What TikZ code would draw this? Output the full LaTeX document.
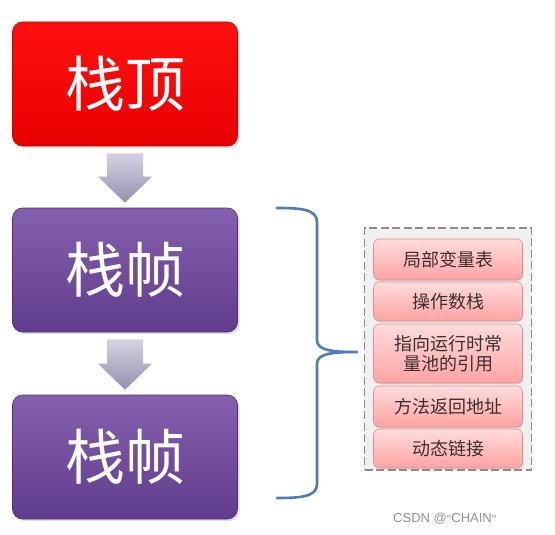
\documentclass[tikz,border=0pt]{standalone}
\usepackage{fontspec}
\newfontfamily\cjk{Noto Sans CJK SC}
\setmainfont{Liberation Sans}
\usetikzlibrary{calc,shadows}
\definecolor{redtop}{HTML}{FF1010}
\definecolor{redbot}{HTML}{E80000}
\definecolor{purtop}{HTML}{8460AE}
\definecolor{purbot}{HTML}{603C8C}
\definecolor{pinktop}{HTML}{FFDCDC}
\definecolor{pinkbot}{HTML}{FFA2A2}
\definecolor{pinkline}{HTML}{D89090}
\definecolor{bracecol}{HTML}{4A7EBB}
\definecolor{arrtop}{HTML}{D6D2E2}
\definecolor{arrbot}{HTML}{958FAE}
\definecolor{txtgray}{HTML}{3A3030}
\begin{document}
\begin{tikzpicture}[x=1pt,y=-1pt,
  bigbox/.style={rounded corners=10pt, minimum width=225pt, minimum height=124pt,
    text=white, font=\cjk\fontsize{60}{60}\selectfont, inner sep=0pt,
    drop shadow={shadow xshift=2pt,shadow yshift=-2pt,opacity=0.25}},
  redbox/.style={bigbox, draw=red!80!black, line width=0.6pt, top color=redtop, bottom color=redbot},
  purbox/.style={bigbox, draw=purbot!80!black, line width=0.6pt, top color=purtop, bottom color=purbot},
  smallbox/.style={rounded corners=6pt, minimum width=149pt, draw=pinkline, line width=0.6pt,
    top color=pinktop, bottom color=pinkbot, text=txtgray, align=center,
    font=\cjk\fontsize{18}{20.5}\selectfont, inner sep=0pt,
    drop shadow={shadow xshift=1pt,shadow yshift=-1.5pt,opacity=0.2}},
  blockarrow/.style={top color=arrtop, bottom color=arrbot, draw=none},
  bracestyle/.style={draw=bracecol, line width=2.6pt, line cap=round, line join=round},
  wm/.style={font=\fontsize{13}{13}\selectfont, text=gray!85, anchor=west, inner sep=0pt}
]
\useasboundingbox (0,0) rectangle (555,535);
\fill[white] (0,0) rectangle (555,535);

\node[redbox] (top) at (125,84) {栈顶};
\node[purbox] (f1) at (125,270) {栈帧};
\node[purbox] (f2) at (125,457) {栈帧};

% block arrows
\foreach \a/\b in {top/f1, f1/f2}{
  \path[blockarrow]
    let \p1=(\a.south), \p2=(\b.north) in
    ($(\x1-18,\y1)+(0,7)$) -- ($(\x1+18,\y1)+(0,7)$) -- ($(\x1+18,\y2)+(0,-31)$)
    -- ($(\x1+27,\y2)+(0,-31)$) -- ($(\x1,\y2)+(0,-5)$) -- ($(\x1-27,\y2)+(0,-31)$)
    -- ($(\x1-18,\y2)+(0,-31)$) -- cycle;
}

% dashed container
\node[draw=gray!90, dashed, dash pattern=on 8pt off 3.5pt, line width=1.4pt, fill=gray!12,
  minimum width=167pt, minimum height=242pt, inner sep=0pt] (panel) at (448,349) {};

\node[smallbox, minimum height=41pt] (s1) at (448,259.5) {局部变量表};
\node[smallbox, minimum height=39pt] (s2) at (448,301.5) {操作数栈};
\node[smallbox, minimum height=59pt] (s3) at (448,353.5) {指向运行时常\\量池的引用};
\node[smallbox, minimum height=41pt] (s4) at (448,406.5) {方法返回地址};
\node[smallbox, minimum height=39pt] (s5) at (448,448.5) {动态链接};

% brace
\coordinate (bt) at (277,208);
\coordinate (bb) at (277,498);
\coordinate (tip) at (357,352);
\draw[bracestyle] (bt) .. controls (300,208) and (317,209) .. (317,222)
  -- (317,340) .. controls (317,350) and (330,352) .. (tip)
  .. controls (330,352) and (317,354) .. (317,364)
  -- (317,484) .. controls (317,497) and (300,498) .. (bb);

% watermark
\node[wm] (wmk) at (393,519) {CSDN @\raisebox{2.5pt}{\fontsize{8}{8}\selectfont ᵐ}CHAIN\raisebox{2.5pt}{\fontsize{8}{8}\selectfont ᵐ}};
\end{tikzpicture}
\end{document}
